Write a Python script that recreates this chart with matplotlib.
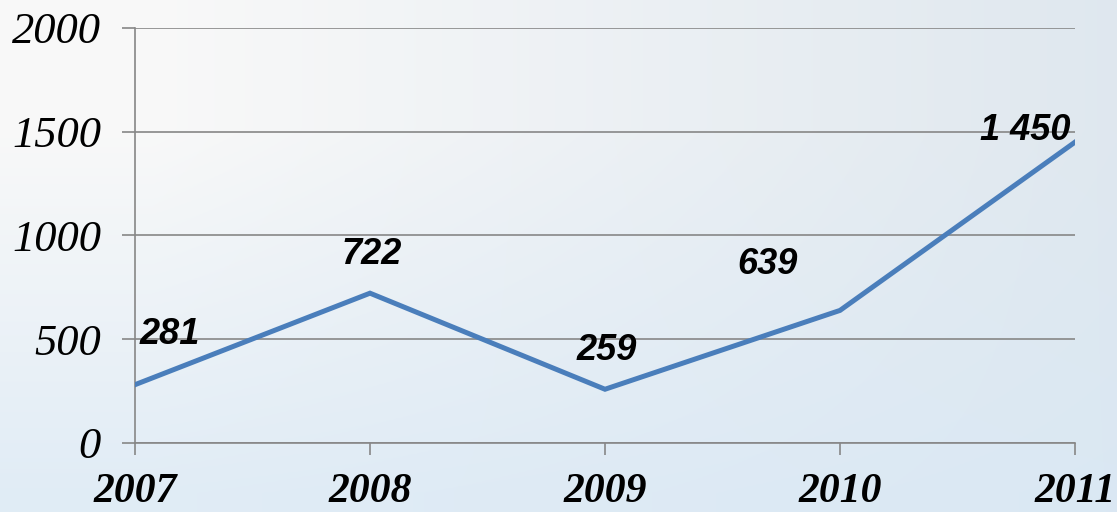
import matplotlib
matplotlib.use("Agg")
import matplotlib.pyplot as plt
import numpy as np

years = ['2007', '2008', '2009', '2010', '2011']
values = [281, 722, 259, 639, 1450]
value_labels = ['281', '722', '259', '639', '1 450']
# label offsets in pixels (dx, dy) relative to each point
label_offsets = [(35, 50), (2, 39), (2, 39), (-72, 46), (-50, 12)]

fig = plt.figure(figsize=(11.17, 5.12), dpi=100)

# soft sky-like background
bg = fig.add_axes([0, 0, 1, 1], zorder=0)
yy, xx = np.mgrid[0:1:256j, 0:1:512j]
top_left = np.array([0.975, 0.975, 0.975])
right = np.array([0.87, 0.905, 0.935])
bottom = np.array([0.85, 0.91, 0.96])
w_r = np.clip(xx * 1.1 - 0.15, 0, 1)[..., None]
w_b = np.clip(yy * 1.4 - 0.35, 0, 1)[..., None]
img = top_left * (1 - w_r) + right * w_r
img = img * (1 - w_b * 0.75) + bottom * (w_b * 0.75)
bg.imshow(img, aspect='auto', extent=[0, 1, 0, 1], origin='upper')
bg.axis('off')

ax = fig.add_axes([135 / 1117, 1 - 443 / 512, 940 / 1117, 415 / 512], zorder=1)
ax.patch.set_alpha(0)

x = np.arange(len(years))
ax.plot(x, values, color='#4a7ebb', lw=3.6, solid_joinstyle='miter', zorder=3)

for xi, v, lab, (dx, dy) in zip(x, values, value_labels, label_offsets):
    ax.annotate(lab, (xi, v), xytext=(dx * 0.72, dy * 0.72), textcoords='offset points',
                ha='center', va='center', fontsize=26, fontweight='bold', fontstyle='italic',
                family='Liberation Sans', color='black', zorder=4)

ax.set_xlim(0, 4)
ax.set_ylim(0, 2000)
ax.set_yticks([0, 500, 1000, 1500, 2000])
ax.set_xticks(x)
ax.set_xticklabels(years)

grid_c = '#878787'
ax.grid(axis='y', color=grid_c, lw=1.2)
ax.set_axisbelow(True)
for s in ['top', 'right']:
    ax.spines[s].set_visible(False)
for s in ['left', 'bottom']:
    ax.spines[s].set_color(grid_c)
    ax.spines[s].set_linewidth(1.2)
ax.tick_params(axis='y', length=9.5, width=1.2, color=grid_c, pad=15, labelsize=32)
ax.tick_params(axis='x', length=8.5, width=1.2, color=grid_c, pad=13, labelsize=30)
for t in ax.get_yticklabels():
    t.set_family('Liberation Serif')
    t.set_style('italic')
for t in ax.get_xticklabels():
    t.set_family('Liberation Serif')
    t.set_style('italic')
    t.set_weight('bold')

fig.savefig('out.png', dpi=100)
